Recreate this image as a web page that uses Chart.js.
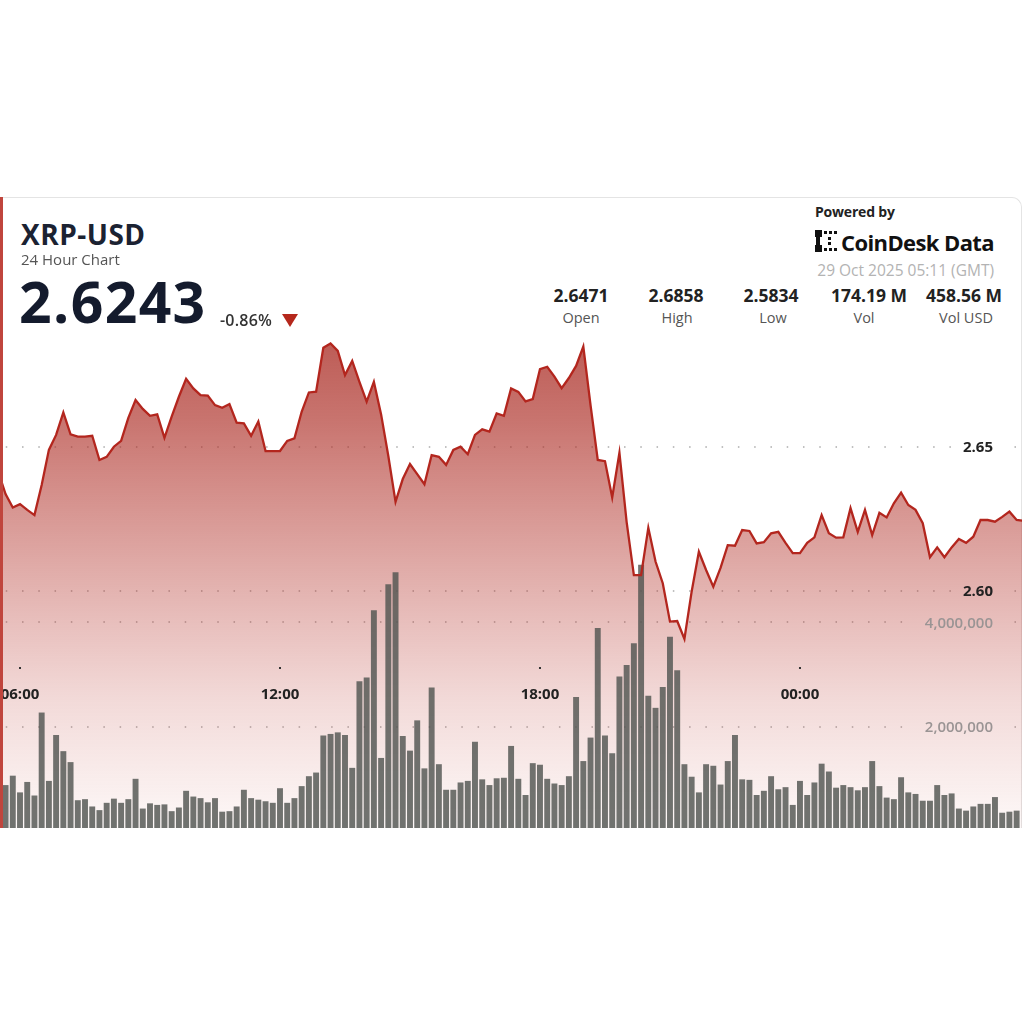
<!DOCTYPE html>
<html><head><meta charset="utf-8">
<script src="https://cdn.jsdelivr.net/npm/chart.js@4.4.1/dist/chart.umd.min.js"></script>
<style>
html,body{margin:0;padding:0;background:#fff;width:1024px;height:1024px;overflow:hidden;font-family:"Open Sans",sans-serif;}
.t{position:absolute;white-space:nowrap;line-height:1;}
#card{position:absolute;left:0;top:197px;width:1022px;height:631px;border-top:1px solid #e4e4e4;border-right:1px solid #e4e4e4;border-top-right-radius:10px;box-sizing:border-box;}
#clip{position:absolute;left:0;top:0;width:1022px;height:828px;overflow:hidden;}
#chart{position:absolute;left:0;top:330px;}
#redline{position:absolute;left:0;top:197px;width:3px;height:631px;background:#c0453d;}
.sv{position:absolute;width:110px;text-align:center;line-height:1;white-space:nowrap;font-size:17.5px;font-weight:700;color:#222;top:287px;}
.sl{position:absolute;width:110px;text-align:center;line-height:1;white-space:nowrap;font-size:14.5px;font-weight:400;color:#555;top:310.5px;}
#tri{position:absolute;left:282px;top:314px;width:0;height:0;border-left:8px solid transparent;border-right:8px solid transparent;border-top:13px solid #b5271c;}
</style>
</head>
<body>
<div id="card"></div>
<div id="clip"><canvas id="chart" width="1024" height="501"></canvas></div>
<div id="redline"></div>

<div class="t" style="left:21px;top:220px;font-size:28px;font-weight:700;color:#1b2232;letter-spacing:0.5px;">XRP-USD</div>
<div class="t" style="left:21px;top:252px;font-size:15px;color:#555;">24 Hour Chart</div>
<div class="t" style="left:19px;top:273px;font-size:57px;font-weight:700;color:#141b2d;letter-spacing:1.4px;">2.6243</div>
<div class="t" style="left:220px;top:312px;font-size:16px;font-weight:600;color:#333;letter-spacing:0.2px;">-0.86%</div>
<div id="tri"></div>

<div class="t" style="left:815px;top:205px;font-size:14px;font-weight:700;color:#222;letter-spacing:-0.2px;">Powered by</div>
<svg style="position:absolute;left:815px;top:230px;" width="22" height="22" viewBox="0 0 22 22">
  <g fill="#111">
    <rect x="0" y="0" width="7" height="7"/><rect x="0" y="15" width="7" height="7"/>
    <rect x="1" y="7" width="4" height="8"/>
    <rect x="9" y="1" width="3" height="3"/><rect x="14" y="1" width="3" height="3"/><rect x="19" y="1" width="3" height="3"/>
    <rect x="9" y="18" width="3" height="3"/><rect x="14" y="18" width="3" height="3"/><rect x="19" y="18" width="3" height="3"/>
    <rect x="13" y="7" width="3" height="3"/><rect x="13" y="12" width="3" height="3"/>
  </g>
</svg>
<div class="t" style="left:841px;top:230.5px;font-size:22px;font-weight:700;color:#111;letter-spacing:-0.6px;">CoinDesk Data</div>
<div class="t" style="right:30px;top:263px;font-size:15.5px;color:#b3b3b3;">29 Oct 2025 05:11 (GMT)</div>

<div class="sv" style="left:526px;">2.6471</div><div class="sl" style="left:526px;">Open</div>
<div class="sv" style="left:621px;">2.6858</div><div class="sl" style="left:622px;">High</div>
<div class="sv" style="left:716px;">2.5834</div><div class="sl" style="left:718px;">Low</div>
<div class="sv" style="left:814px;">174.19 M</div><div class="sl" style="left:809px;">Vol</div>
<div class="sv" style="left:909px;">458.56 M</div><div class="sl" style="left:911px;">Vol USD</div>

<script>
// ---- data ----
const startMinute = 330;   // 05:30, 28 Oct 2025 (minutes after midnight)
const stepMinutes = 10;
const prices = [
  2.6412,2.6336,2.6289,2.6301,2.6281,2.6263,2.6367,2.6489,2.6541,2.6619,
  2.6543,2.6535,2.6535,2.6538,2.6454,2.6465,2.6500,2.6520,2.6600,2.6662,
  2.6631,2.6607,2.6612,2.6531,2.6604,2.6673,2.6735,2.6702,2.6679,2.6677,
  2.6644,2.6635,2.6648,2.6583,2.6581,2.6538,2.6587,2.6485,2.6485,2.6485,
  2.6520,2.6529,2.6621,2.6688,2.6691,2.6843,2.6858,2.6832,2.6748,2.6797,
  2.6725,2.6656,2.6725,2.6612,2.6468,2.6309,2.6388,2.6440,2.6405,2.6370,
  2.6471,2.6465,2.6437,2.6489,2.6500,2.6474,2.6541,2.6560,2.6552,2.6615,
  2.6607,2.6702,2.6690,2.6657,2.6665,2.6769,2.6777,2.6743,2.6703,2.6738,
  2.6780,2.6847,2.6644,2.6454,2.6450,2.6324,2.6479,2.6239,2.6055,2.6055,
  2.6219,2.6102,2.6027,2.5894,2.5896,2.5834,2.5998,2.6136,2.6073,2.6015,
  2.6080,2.6159,2.6157,2.6211,2.6208,2.6165,2.6169,2.6200,2.6205,2.6167,
  2.6131,2.6131,2.6167,2.6186,2.6263,2.6200,2.6185,2.6186,2.6287,2.6205,
  2.6281,2.6194,2.6271,2.6255,2.6304,2.6341,2.6298,2.6281,2.6235,2.6117,
  2.6151,2.6117,2.6151,2.6180,2.6167,2.6188,2.6246,2.6246,2.6240,2.6257,
  2.6275,2.6246,2.6243
];
const volumesMillions = [
  0.63,0.88,1.06,0.74,0.94,0.68,2.27,0.96,1.84,1.53,
  1.32,0.59,0.61,0.47,0.40,0.54,0.62,0.54,0.61,1.00,
  0.43,0.53,0.50,0.51,0.38,0.45,0.77,0.66,0.63,0.55,
  0.63,0.37,0.38,0.47,0.79,0.63,0.60,0.57,0.54,0.82,
  0.54,0.63,0.86,1.05,1.12,1.83,1.86,1.89,1.84,1.21,
  2.87,2.94,4.23,1.40,4.73,4.96,1.82,1.54,2.12,1.20,
  2.75,1.28,0.79,0.79,0.93,0.96,1.71,0.99,0.88,1.01,
  1.02,1.63,1.00,0.69,1.30,1.27,1.00,0.91,0.88,1.05,
  2.57,1.34,1.79,3.89,1.83,1.49,2.96,3.18,3.60,5.10,
  2.59,2.36,2.76,3.72,3.08,1.28,1.04,0.74,1.28,1.25,
  0.89,1.34,1.84,0.99,0.98,0.69,0.77,1.05,0.80,0.84,
  0.50,0.96,0.69,0.93,1.29,1.14,0.83,0.88,0.84,0.78,
  0.84,1.34,0.86,0.64,0.61,1.03,0.74,0.71,0.58,0.58,
  0.88,0.69,0.72,0.43,0.39,0.47,0.52,0.52,0.65,0.35,
  0.37,0.39
];
const priceTicks = [2.60, 2.65];
const volumeTicks = [2000000, 4000000];
const timeTickMinutes = [360, 720, 1080, 1440];
const timeTickLabels = ['06:00', '12:00', '18:00', '00:00'];

// ---- build ----
const pricePoints = prices.map((p, i) => ({x: startMinute + i * stepMinutes, y: p}));
const volumePoints = volumesMillions.map((v, i) => ({x: startMinute + i * stepMinutes, y: v * 1e6}));

function areaGradient(context) {
  const chart = context.chart;
  const a = chart.chartArea;
  if (!a) return 'rgba(175,45,38,0.3)';
  const g = chart.ctx.createLinearGradient(0, a.top, 0, a.bottom);
  g.addColorStop(0, 'rgba(168,42,34,0.78)');
  g.addColorStop(0.18, 'rgba(172,44,36,0.66)');
  g.addColorStop(0.52, 'rgba(180,50,42,0.37)');
  g.addColorStop(0.74, 'rgba(188,58,50,0.19)');
  g.addColorStop(1, 'rgba(200,80,70,0.04)');
  return g;
}

const decor = {
  id: 'decor',
  beforeDatasetsDraw(chart) {
    const {ctx, chartArea: a, scales: s} = chart;
    ctx.save();
    const rows = [];
    priceTicks.forEach(v => rows.push({y: s.yPrice.getPixelForValue(v), text: v.toFixed(2), font: '700 15px "Open Sans"'}));
    volumeTicks.forEach(v => rows.push({y: s.yVol.getPixelForValue(v), text: v.toLocaleString('en-US'), font: '600 15px "Open Sans"'}));
    ctx.fillStyle = 'rgba(115,115,115,0.6)';
    rows.forEach(r => {
      ctx.font = r.font;
      const w = ctx.measureText(r.text).width;
      const right = a.right - 31;
      const g0 = right - w - 8, g1 = right + 10;
      for (let x = a.left + 6.5; x < a.right; x += 16.27) {
        if (x > g0 && x < g1) continue;
        ctx.fillRect(x - 0.75, Math.round(r.y) - 0.75, 1.5, 1.5);
      }
    });
    ctx.restore();
  },
  afterDatasetsDraw(chart) {
    const {ctx, chartArea: a, scales: s} = chart;
    ctx.save();
    ctx.textAlign = 'right';
    ctx.textBaseline = 'middle';
    ctx.font = '700 15px "Open Sans"';
    ctx.fillStyle = '#222';
    priceTicks.forEach(v => ctx.fillText(v.toFixed(2), a.right - 31, s.yPrice.getPixelForValue(v) + 1));
    ctx.font = '600 15px "Open Sans"';
    ctx.fillStyle = '#9a9494';
    volumeTicks.forEach(v => ctx.fillText(v.toLocaleString('en-US'), a.right - 31, s.yVol.getPixelForValue(v) + 1));
    ctx.textAlign = 'center';
    ctx.font = '700 15px "Open Sans"';
    timeTickMinutes.forEach((m, k) => {
      const x = s.x.getPixelForValue(m);
      ctx.fillStyle = '#333';
      ctx.fillRect(x - 1, a.bottom - 164, 2, 2);
      ctx.fillStyle = '#222';
      ctx.fillText(timeTickLabels[k], x, a.bottom - 136);
    });
    ctx.restore();
  }
};

new Chart(document.getElementById('chart'), {
  type: 'line',
  data: {
    datasets: [
      {
        type: 'line', label: 'area', data: pricePoints, yAxisID: 'yPrice',
        borderWidth: 0, pointRadius: 0, fill: 'start', backgroundColor: areaGradient,
        tension: 0, order: 3
      },
      {
        type: 'bar', label: 'Volume', data: volumePoints, yAxisID: 'yVol',
        backgroundColor: 'rgba(82,86,82,0.82)', borderWidth: 0,
        barPercentage: 0.82, categoryPercentage: 1, order: 2
      },
      {
        type: 'line', label: 'XRP-USD', data: pricePoints, yAxisID: 'yPrice',
        borderColor: '#b3261e', borderWidth: 2.3, pointRadius: 0, fill: false,
        tension: 0, order: 1, borderJoinStyle: 'miter'
      }
    ]
  },
  options: {
    responsive: false,
    animation: false,
    devicePixelRatio: 1,
    layout: {padding: 0},
    plugins: {legend: {display: false}, tooltip: {enabled: false}},
    scales: {
      x: {type: 'linear', min: 332.3, max: 1750.2, offset: false, display: false},
      yPrice: {type: 'linear', position: 'right', min: 2.51684, max: 2.69044, display: false},
      yVol: {type: 'linear', position: 'right', min: 0, max: 9600000, display: false}
    }
  },
  plugins: [decor]
});
</script>
</body></html>
